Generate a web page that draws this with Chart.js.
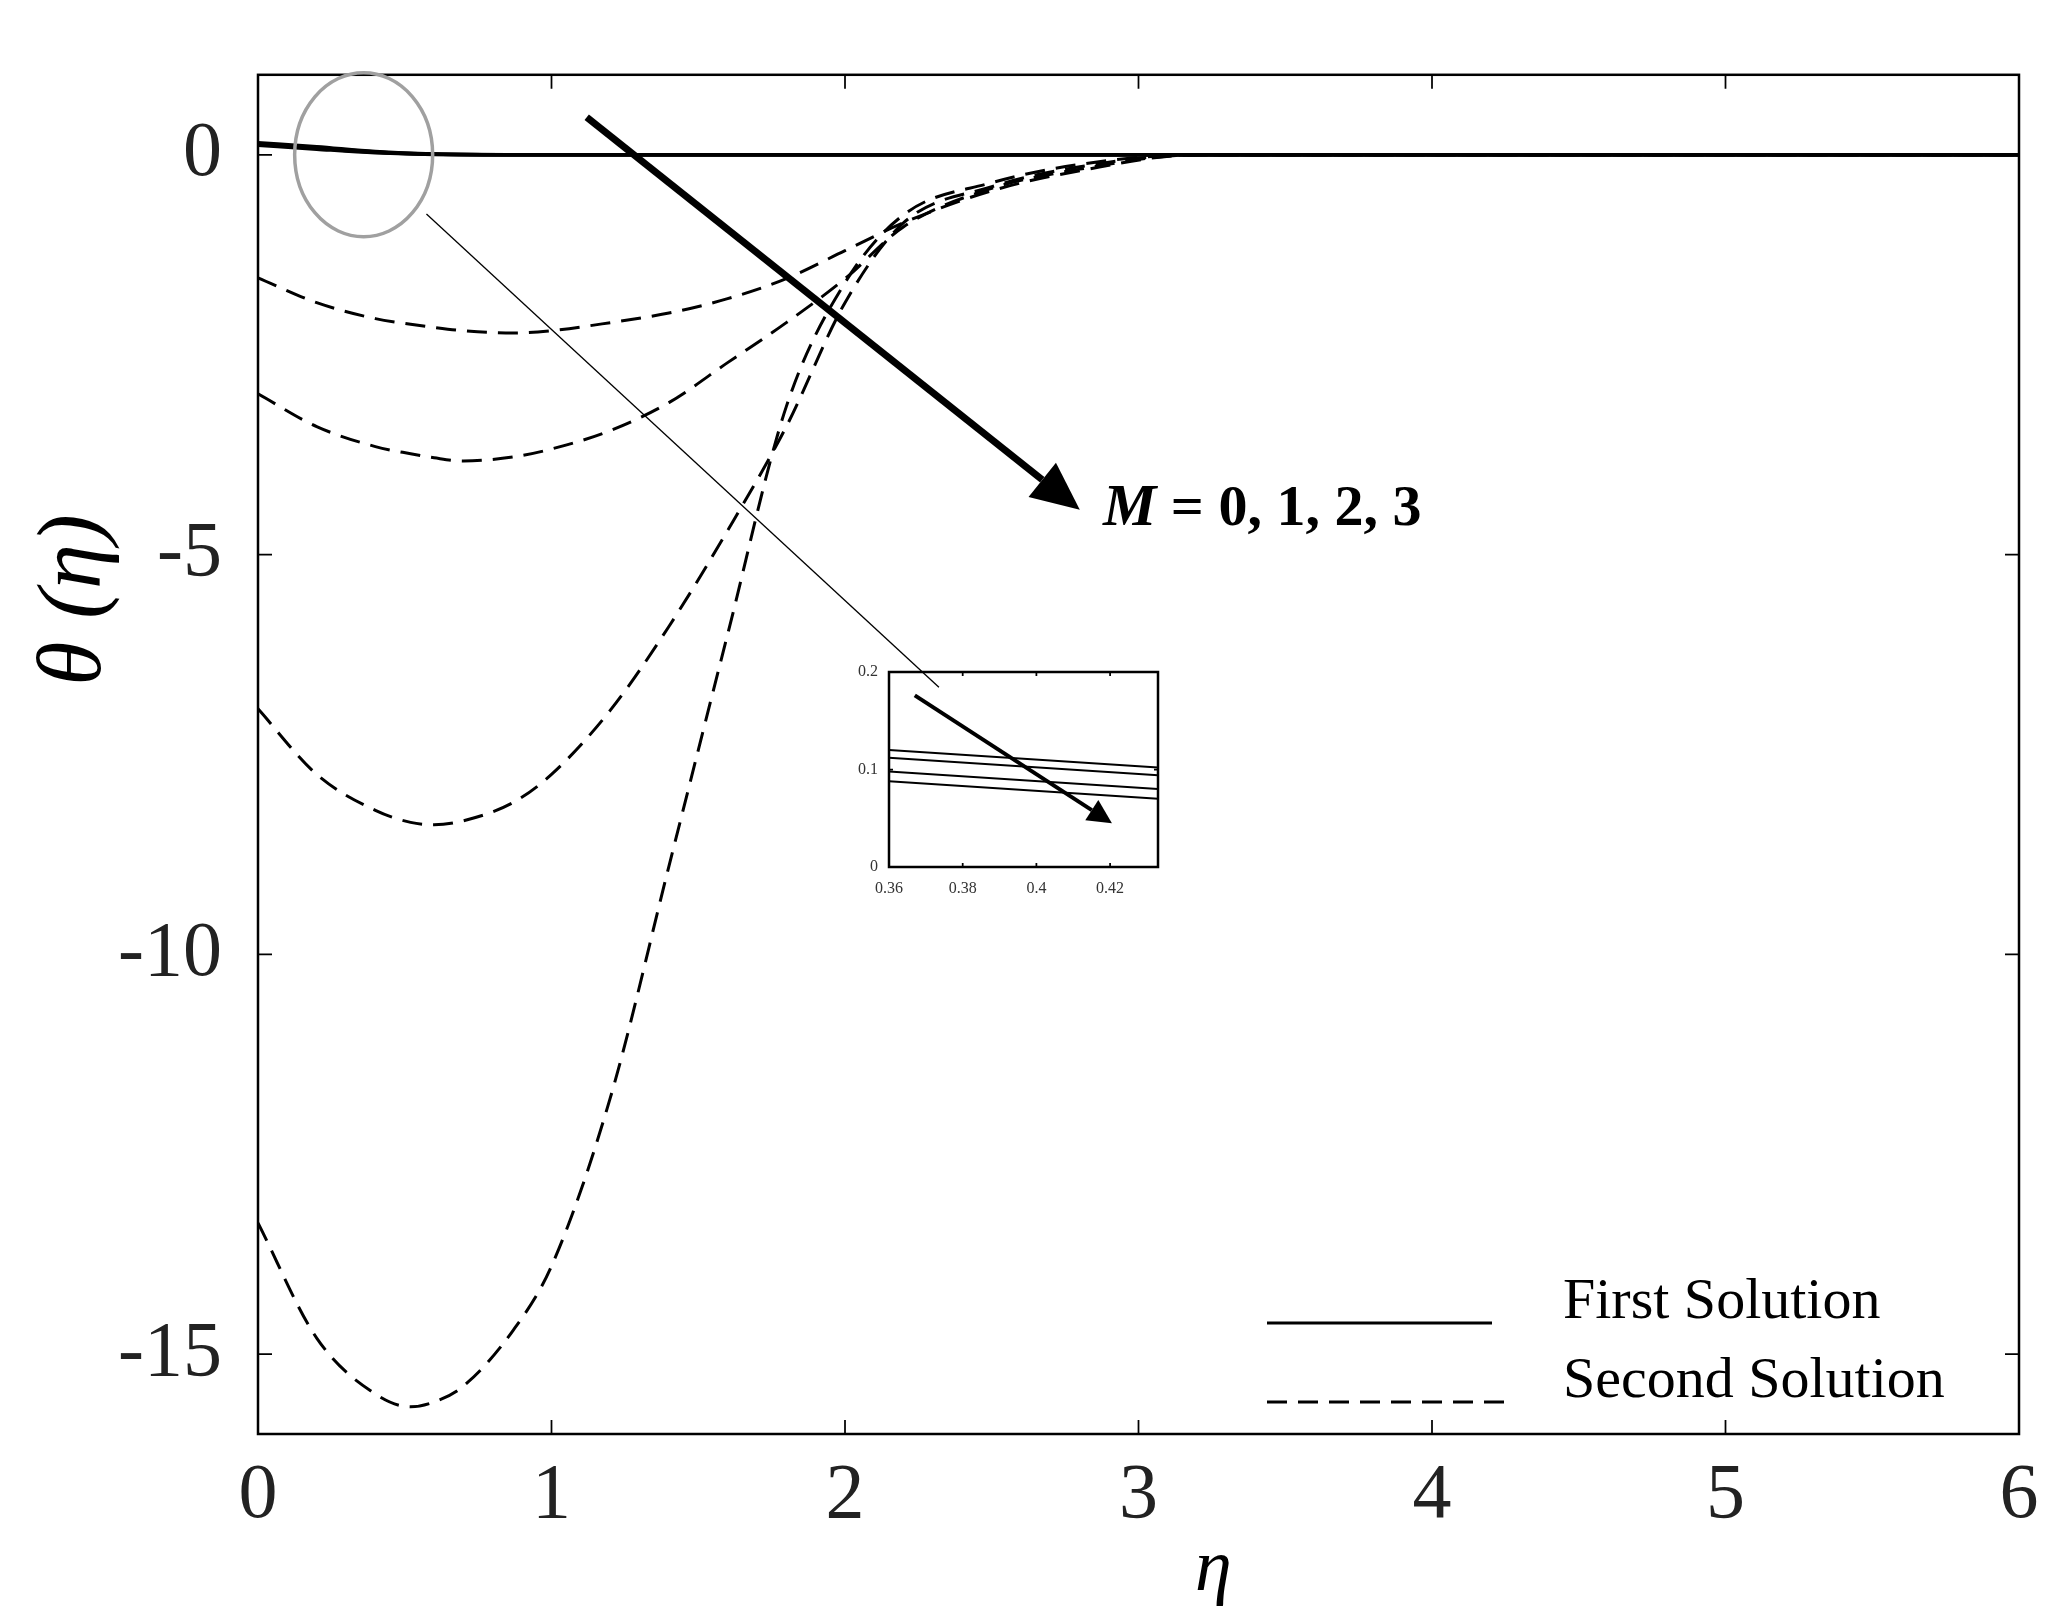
<!DOCTYPE html>
<html><head><meta charset="utf-8">
<script src="https://cdn.jsdelivr.net/npm/chart.js@4.4.0/dist/chart.umd.min.js"></script>
<style>html,body{margin:0;padding:0;background:#fff}#wrap{position:relative;width:2064px;height:1622px}
#main{position:absolute;left:0;top:0}#inset{position:absolute;left:840px;top:655px}</style>
</head><body><div id="wrap"><canvas id="main" width="2064" height="1622"></canvas><canvas id="inset" width="330" height="250"></canvas></div>
<script>
const etaFirst = [0, 0.2, 0.4, 0.6, 0.9, 1.2, 2, 3, 4, 5, 6];
const firstSol = [
 [0.15, 0.10, 0.04, 0.01, 0.0, 0, 0, 0, 0, 0, 0],
 [0.14, 0.09, 0.035, 0.008, 0.0, 0, 0, 0, 0, 0, 0],
 [0.13, 0.08, 0.03, 0.006, 0.0, 0, 0, 0, 0, 0, 0],
 [0.12, 0.07, 0.025, 0.004, 0.0, 0, 0, 0, 0, 0, 0]
];
const etaSecond = [0, 0.2, 0.4, 0.52, 0.6, 0.7, 0.87, 1.0, 1.2, 1.4, 1.6, 1.8, 2.0, 2.2, 2.5, 2.8, 3.2, 4, 6];
const secondSol = [
 [-1.54, -1.85, -2.05, -2.12, -2.16, -2.2, -2.23, -2.2, -2.1, -1.98, -1.8, -1.55, -1.2, -0.85, -0.45, -0.2, 0, 0, 0],
 [-2.99, -3.4, -3.65, -3.74, -3.79, -3.83, -3.78, -3.68, -3.45, -3.1, -2.6, -2.1, -1.55, -0.9, -0.42, -0.18, 0, 0, 0],
 [-6.93, -7.75, -8.2, -8.35, -8.38, -8.33, -8.1, -7.75, -6.95, -5.9, -4.7, -3.4, -1.85, -0.85, -0.4, -0.15, 0, 0, 0],
 [-13.36, -14.8, -15.5, -15.66, -15.6, -15.4, -14.7, -13.9, -11.8, -8.9, -6.0, -3.15, -1.6, -0.75, -0.35, -0.12, 0, 0, 0]
];
const xTicks = [0, 1, 2, 3, 4, 5, 6];
const yTicks = [0, -5, -10, -15];
const insetX = [0.36, 0.433];
const insetLines = [[0.12, 0.102], [0.112, 0.094], [0.098, 0.08], [0.088, 0.07]];
const insetXTicks = [0.36, 0.38, 0.4, 0.42];
const insetYTicks = [0, 0.1, 0.2];

const serif = '"Liberation Serif", "DejaVu Serif", serif';
function pts(xs, ys){return xs.map((x,i)=>({x, y:ys[i]}));}
const datasets = [];
firstSol.forEach(s=>datasets.push({data:pts(etaFirst,s),borderColor:'#000',borderWidth:3.5,pointRadius:0,cubicInterpolationMode:'monotone'}));
secondSol.forEach(s=>datasets.push({data:pts(etaSecond,s),borderColor:'#000',borderWidth:3,borderDash:[20,11],pointRadius:0,cubicInterpolationMode:'monotone'}));

function arrow(ctx,x1,y1,x2,y2,w,hl,hw){
  const a=Math.atan2(y2-y1,x2-x1);
  const bx=x2-hl*Math.cos(a), by=y2-hl*Math.sin(a);
  ctx.save();ctx.strokeStyle='#000';ctx.fillStyle='#000';ctx.lineWidth=w;
  ctx.beginPath();ctx.moveTo(x1,y1);ctx.lineTo(bx,by);ctx.stroke();
  ctx.beginPath();ctx.moveTo(x2,y2);
  ctx.lineTo(bx+hw*Math.sin(a),by-hw*Math.cos(a));
  ctx.lineTo(bx-hw*Math.sin(a),by+hw*Math.cos(a));ctx.closePath();ctx.fill();ctx.restore();
}
function boxTicks(ctx,chart,len,lw){
  const a=chart.chartArea,xs=chart.scales.x,ys=chart.scales.y;
  ctx.save();ctx.strokeStyle='#000';ctx.lineWidth=lw;
  ctx.strokeRect(a.left,a.top,a.right-a.left,a.bottom-a.top);
  ctx.lineWidth=lw*0.7;ctx.beginPath();
  xs.ticks.forEach(t=>{const p=xs.getPixelForValue(t.value);ctx.moveTo(p,a.bottom);ctx.lineTo(p,a.bottom-len);ctx.moveTo(p,a.top);ctx.lineTo(p,a.top+len);});
  ys.ticks.forEach(t=>{const p=ys.getPixelForValue(t.value);ctx.moveTo(a.left,p);ctx.lineTo(a.left+len,p);ctx.moveTo(a.right,p);ctx.lineTo(a.right-len,p);});
  ctx.stroke();ctx.restore();
}
const decor={id:'decor',afterDraw(chart){
  const ctx=chart.ctx,xs=chart.scales.x,ys=chart.scales.y,X=v=>xs.getPixelForValue(v),Y=v=>ys.getPixelForValue(v);
  boxTicks(ctx,chart,14,2.5);
  ctx.save();
  ctx.strokeStyle='#a0a0a0';ctx.lineWidth=3.5;ctx.beginPath();ctx.ellipse(X(0.36),Y(0),69,82,0,0,Math.PI*2);ctx.stroke();
  ctx.strokeStyle='#000';ctx.lineWidth=1.3;ctx.beginPath();ctx.moveTo(X(0.574),Y(-0.74));ctx.lineTo(X(2.32),Y(-6.66));ctx.stroke();
  arrow(ctx,X(1.12),Y(0.47),X(2.8),Y(-4.44),7,48,22);
  ctx.fillStyle='#000';ctx.textBaseline='alphabetic';
  ctx.font='bold italic 60px '+serif;ctx.fillText('M',1103,525);
  const mw=ctx.measureText('M').width;
  ctx.font='bold 58px '+serif;ctx.fillText(' = 0, 1, 2, 3',1103+mw,525);
  ctx.font='58px '+serif;ctx.fillText('First Solution',1563,1318);ctx.fillText('Second Solution',1563,1397);
  ctx.lineWidth=3;ctx.beginPath();ctx.moveTo(1267,1323);ctx.lineTo(1492,1323);ctx.stroke();
  ctx.setLineDash([20,11]);ctx.beginPath();ctx.moveTo(1267,1402);ctx.lineTo(1505,1402);ctx.stroke();ctx.setLineDash([]);
  ctx.font='italic 74px '+serif;ctx.fillText('η',1195,1590);
  ctx.translate(100,600);ctx.rotate(-Math.PI/2);ctx.textAlign='center';ctx.font='italic 90px '+serif;ctx.fillText('θ (η)',0,0);
  ctx.restore();
}};
new Chart(document.getElementById('main'),{type:'line',data:{datasets},plugins:[decor],
 options:{responsive:false,animation:false,layout:{padding:{top:26,right:45,left:0,bottom:0}},
  plugins:{legend:{display:false},tooltip:{enabled:false}},
  scales:{
   x:{type:'linear',min:0,max:6,afterBuildTicks:s=>{s.ticks=xTicks.map(v=>({value:v}));},
      afterFit:s=>{s.height=188;},grid:{display:false},border:{display:false},
      ticks:{color:'#222',font:{family:serif,size:78},padding:8,maxRotation:0}},
   y:{type:'linear',min:-16,max:1,afterBuildTicks:s=>{s.ticks=yTicks.map(v=>({value:v}));},
      afterFit:s=>{s.width=258;},grid:{display:false},border:{display:false},
      ticks:{color:'#222',font:{family:serif,size:78},padding:28}}
  }}});

const insetDecor={id:'insetDecor',afterDraw(chart){
  const ctx=chart.ctx,xs=chart.scales.x,ys=chart.scales.y;
  boxTicks(ctx,chart,4,2.5);
  arrow(ctx,xs.getPixelForValue(0.367),ys.getPixelForValue(0.176),xs.getPixelForValue(0.4205),ys.getPixelForValue(0.045),4,24,12);
}};
new Chart(document.getElementById('inset'),{type:'line',
 data:{datasets:insetLines.map(l=>({data:pts(insetX,l),borderColor:'#000',borderWidth:2,pointRadius:0}))},
 plugins:[insetDecor],
 options:{responsive:false,animation:false,layout:{padding:{top:17,right:12,left:0,bottom:0}},
  plugins:{legend:{display:false},tooltip:{enabled:false}},
  scales:{
   x:{type:'linear',min:0.36,max:0.433,afterBuildTicks:s=>{s.ticks=insetXTicks.map(v=>({value:v}));},
      afterFit:s=>{s.height=38;},grid:{display:false},border:{display:false},
      ticks:{color:'#333',font:{family:serif,size:16},padding:4,maxRotation:0,callback:v=>String(+v.toFixed(2))}},
   y:{type:'linear',min:0,max:0.2,afterBuildTicks:s=>{s.ticks=insetYTicks.map(v=>({value:v}));},
      afterFit:s=>{s.width=49;},grid:{display:false},border:{display:false},
      ticks:{color:'#333',font:{family:serif,size:16},padding:3,callback:v=>String(+v.toFixed(1))}}
  }}});
</script></body></html>
